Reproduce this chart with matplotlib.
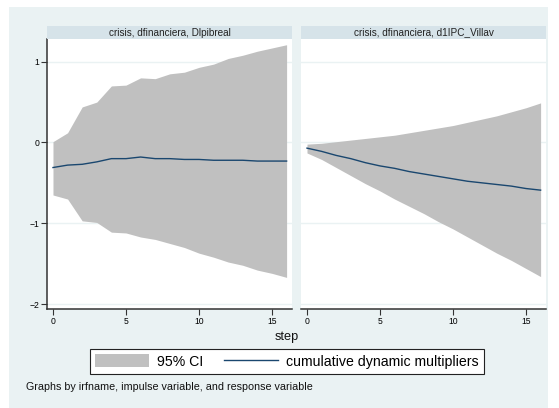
import matplotlib.pyplot as plt
from matplotlib.patches import Rectangle

plt.rcParams['font.family'] = ['Liberation Sans', 'DejaVu Sans']

steps = list(range(17))

# crisis -> dfinanciera -> Dlpibreal
gdp_cdm = [-0.31, -0.28, -0.27, -0.24, -0.20, -0.20, -0.18, -0.20, -0.20,
           -0.21, -0.21, -0.22, -0.22, -0.22, -0.23, -0.23, -0.23]
gdp_upper = [0.01, 0.12, 0.44, 0.50, 0.70, 0.71, 0.80, 0.79, 0.85,
             0.87, 0.93, 0.97, 1.04, 1.08, 1.13, 1.17, 1.21]
gdp_lower = [-0.65, -0.70, -0.97, -0.99, -1.11, -1.12, -1.17, -1.20, -1.25,
             -1.30, -1.37, -1.42, -1.48, -1.52, -1.58, -1.62, -1.67]

# crisis -> dfinanciera -> d1IPC_Villav
ipc_cdm = [-0.07, -0.11, -0.16, -0.20, -0.25, -0.29, -0.32, -0.36, -0.39,
           -0.42, -0.45, -0.48, -0.50, -0.52, -0.54, -0.57, -0.59]
ipc_upper = [-0.02, -0.01, 0.01, 0.03, 0.05, 0.07, 0.09, 0.12, 0.15,
             0.18, 0.21, 0.25, 0.29, 0.33, 0.38, 0.43, 0.49]
ipc_lower = [-0.13, -0.21, -0.31, -0.41, -0.51, -0.60, -0.70, -0.79, -0.88,
             -0.98, -1.07, -1.17, -1.27, -1.37, -1.46, -1.56, -1.66]

panel_titles = ["crisis, dfinanciera, Dlpibreal", "crisis, dfinanciera, d1IPC_Villav"]
yticks = [-2, -1, 0, 1]
xticks = [0, 5, 10, 15]

BG = "#EAF2F3"
STRIP = "#D6E3E9"
CI_COLOR = "#C0C0C0"
LINE_COLOR = "#1A476F"
AXIS_COLOR = "#333333"

W, H = 559, 408
fig = plt.figure(figsize=(W / 100, H / 100), dpi=100)
fig.patch.set_facecolor("white")
fig.add_artist(Rectangle((9 / W, 0), (548 - 9) / W, 1 - 7 / H,
                         transform=fig.transFigure, facecolor=BG,
                         edgecolor="none", zorder=-10))

panels = [(gdp_cdm, gdp_upper, gdp_lower), (ipc_cdm, ipc_upper, ipc_lower)]
lefts = [47, 301]
ax_w = 245 / W
ax_b = 1 - 308.5 / H
ax_h = (308.5 - 39) / H

for i, (cdm, up, lo) in enumerate(panels):
    ax = fig.add_axes([lefts[i] / W, ax_b, ax_w, ax_h])
    ax.set_facecolor("white")
    ax.fill_between(steps, lo, up, color=CI_COLOR, linewidth=0, zorder=2)
    ax.plot(steps, cdm, color=LINE_COLOR, linewidth=1.0, zorder=3)
    ax.set_xlim(-0.41, 16.37)
    ax.set_ylim(-2.055, 1.281)
    for y in yticks:
        ax.axhline(y, color=BG, linewidth=1.0, zorder=1)
    for s in ["top", "right"]:
        ax.spines[s].set_visible(False)
    ax.spines["bottom"].set_color(AXIS_COLOR)
    ax.spines["bottom"].set_linewidth(1.1)
    ax.set_xticks(xticks)
    ax.tick_params(axis="x", length=4.5, width=0.8, color=AXIS_COLOR,
                   labelsize=6.2, pad=1.5)
    if i == 0:
        ax.spines["left"].set_color(AXIS_COLOR)
        ax.spines["left"].set_linewidth(1.1)
        ax.set_yticks(yticks)
        ax.tick_params(axis="y", length=4.5, width=0.8, color=AXIS_COLOR,
                       labelsize=6.2, pad=1.0)
    else:
        ax.spines["left"].set_visible(False)
        ax.set_yticks([])

    # title strip
    fig.add_artist(Rectangle((lefts[i] / W, 1 - 39 / H), ax_w, 13 / H,
                             transform=fig.transFigure, facecolor=STRIP,
                             edgecolor="none"))
    fig.text((lefts[i] + 122.5) / W, 1 - 32.5 / H, panel_titles[i],
             ha="center", va="center", fontsize=7.2, color="#222222")

fig.text(287 / W, 1 - 337 / H, "step", ha="center", va="center",
         fontsize=9.2, color="#111111")

ci_handle = Rectangle((0, 0), 1, 1, facecolor=CI_COLOR, edgecolor="none")
line_handle = plt.Line2D([], [], color=LINE_COLOR, linewidth=1.0)
leg = fig.legend([ci_handle, line_handle], ["95% CI", "cumulative dynamic multipliers"],
                 loc="center", bbox_to_anchor=(287 / W, 1 - 361.5 / H), ncol=2,
                 fontsize=10.2, frameon=True, fancybox=False, framealpha=1,
                 edgecolor="#222222", handlelength=3.8, handleheight=1.05,
                 handletextpad=0.55, columnspacing=1.5, borderpad=0.35,
                 borderaxespad=0)
leg.get_frame().set_linewidth(0.8)

fig.text(26.5 / W, 1 - 387 / H,
         "Graphs by irfname, impulse variable, and response variable",
         ha="left", va="center", fontsize=7.75, color="#111111")

fig.savefig("out.png", dpi=100, facecolor=fig.get_facecolor())
